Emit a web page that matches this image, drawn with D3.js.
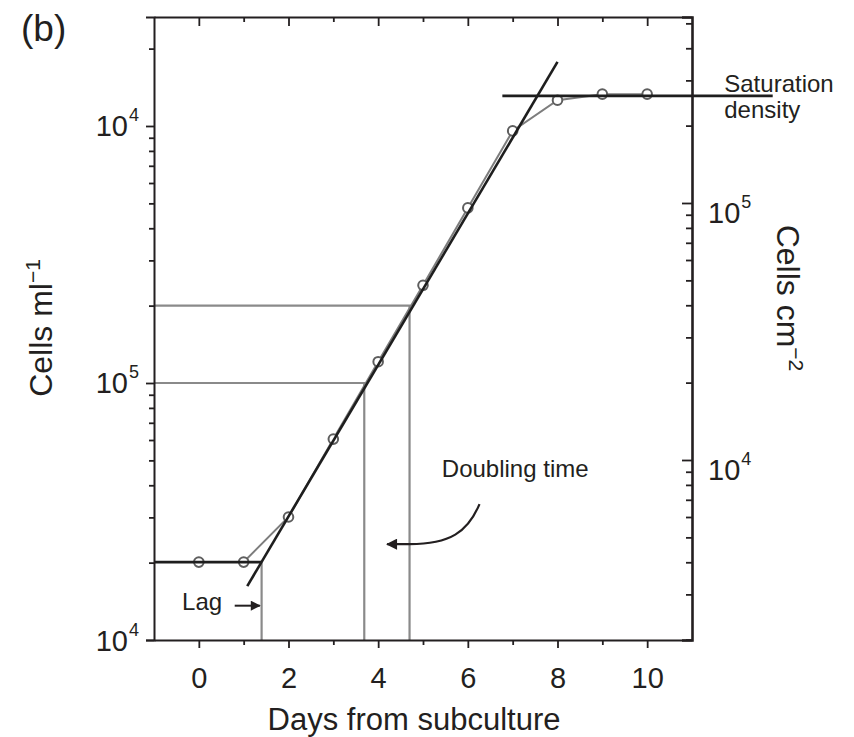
<!DOCTYPE html>
<html>
<head>
<meta charset="utf-8">
<script src="https://cdn.jsdelivr.net/npm/d3@7"></script>
<style>
  body { margin: 0; background: #fff; }
  svg { display: block; font-family: "Liberation Sans", Arial, Helvetica, sans-serif; }
</style>
</head>
<body>
<svg id="chart" width="854" height="737"></svg>
<script>
// growth curve (cells per ml vs days from subculture)
const days = [0, 1, 2, 3, 4, 5, 6, 7, 8, 9, 10];
const cellsPerMl = [2.01e4, 2.01e4, 3.01e4, 6.05e4, 1.21e5, 2.40e5, 4.80e5, 9.57e5, 1.26e6, 1.33e6, 1.33e6];

// fitted exponential phase
const fitDays = [1.08, 8.0];
const fitCells = [1.62e4, 1.775e6];

// lag and saturation levels
const lagDays = [-1, 1.40];
const lagCells = 2.01e4;
const satDays = [6.77, 12.8];
const satCells = 1.31e6;

// doubling time guides
const doublingDays = [3.69, 4.70];
const doublingCells = [1e5, 2e5];

// ticks
const xTicks = [0, 1, 2, 3, 4, 5, 6, 7, 8, 9, 10];
const xTickLabels = ['0', '', '2', '', '4', '', '6', '', '8', '', '10'];
const leftMajor = [1e4, 1e5, 1e6];
const leftExps = ['4', '5', '4'];
const rightMajor = [1e4, 1e5];
const rightExps = ['4', '5'];

const ink = '#231f20';
const grey = '#8a8a8a';

const svg = d3.select('#chart');
const margin = { top: 17, right: 162, bottom: 97, left: 154 };
const width = 854 - margin.left - margin.right;
const height = 737 - margin.top - margin.bottom;

const g = svg.append('g')
  .attr('transform', 'translate(' + margin.left + ',' + margin.top + ')');

const x = d3.scaleLinear().domain([-1, 11]).range([0, width]);
const yL = d3.scaleLog().domain([1e4, Math.pow(10, 6.4241)]).range([height, 0]);
const yR = d3.scaleLog().domain([Math.pow(10, 3.2996), Math.pow(10, 5.7237)]).range([height, 0]);

const styleAxis = (sel, w) => {
  sel.select('.domain').attr('stroke', ink).attr('stroke-width', w || 2);
  sel.selectAll('.tick line').attr('stroke', ink).attr('stroke-width', 1.8);
  sel.selectAll('.tick text').attr('fill', ink).attr('font-size', 29)
    .attr('font-family', '"Liberation Sans", Arial, sans-serif');
};

// markers
const defs = svg.append('defs');
defs.append('marker')
  .attr('id', 'head')
  .attr('viewBox', '0 0 10 10')
  .attr('refX', 9).attr('refY', 5)
  .attr('markerWidth', 6.5).attr('markerHeight', 5)
  .attr('markerUnits', 'strokeWidth')
  .attr('orient', 'auto')
  .append('path').attr('d', 'M0,0 L10,5 L0,10 Z').attr('fill', ink);

// guide lines (grey)
g.append('line')
  .attr('x1', x(lagDays[1])).attr('x2', x(lagDays[1]))
  .attr('y1', yL(lagCells)).attr('y2', yL(1e4))
  .attr('stroke', grey).attr('stroke-width', 2.2);

doublingDays.forEach((d, i) => {
  g.append('path')
    .attr('d', 'M' + x(-1) + ',' + yL(doublingCells[i]) +
      'H' + x(d) + 'V' + yL(1e4))
    .attr('fill', 'none').attr('stroke', grey).attr('stroke-width', 2.2);
});

// data line + points
const pts = days.map((d, i) => ({ day: d, cells: cellsPerMl[i] }));
g.append('path')
  .datum(pts)
  .attr('fill', 'none')
  .attr('stroke', '#7d7d7d')
  .attr('stroke-width', 2)
  .attr('d', d3.line().x(d => x(d.day)).y(d => yL(d.cells)));

g.selectAll('circle')
  .data(pts)
  .join('circle')
  .attr('cx', d => x(d.day))
  .attr('cy', d => yL(d.cells))
  .attr('r', 4.8)
  .attr('fill', '#fff')
  .attr('stroke', '#5e5e5e')
  .attr('stroke-width', 2);

// black fitted lines
const black = (x1, y1, x2, y2) => g.append('line')
  .attr('x1', x1).attr('y1', y1).attr('x2', x2).attr('y2', y2)
  .attr('stroke', '#1e1e1e').attr('stroke-width', 2.6);

black(x(lagDays[0]), yL(lagCells), x(lagDays[1]), yL(lagCells));
black(x(fitDays[0]), yL(fitCells[0]), x(fitDays[1]), yL(fitCells[1]));
black(x(satDays[0]), yL(satCells), x(satDays[1]), yL(satCells));

// axes
const axBottom = g.append('g')
  .attr('transform', 'translate(0,' + height + ')')
  .call(d3.axisBottom(x).tickValues(xTicks).tickSize(8).tickSizeOuter(0)
    .tickPadding(19).tickFormat((d, i) => xTickLabels[i]));
axBottom.selectAll('.tick line').attr('y2', d => d % 2 === 0 ? 8 : 5);
styleAxis(axBottom);

const axTop = g.append('g')
  .call(d3.axisTop(x).tickValues(xTicks).tickSize(-9).tickSizeOuter(0).tickFormat(''));
axTop.selectAll('.tick line').attr('y2', d => d % 2 === 0 ? 9 : 5);
styleAxis(axTop);

const leftMinor = yL.ticks().filter(d => leftMajor.indexOf(d) < 0);
const axLeft = g.append('g')
  .call(d3.axisLeft(yL).tickValues(leftMajor.concat(leftMinor)).tickSizeOuter(0)
    .tickSize(8).tickFormat(''));
axLeft.selectAll('.tick line').attr('x2', d => leftMajor.indexOf(d) >= 0 ? -8 : -5);
styleAxis(axLeft);

const rightMinor = yR.ticks().filter(d => rightMajor.indexOf(d) < 0);
const axRight = g.append('g')
  .attr('transform', 'translate(' + width + ',0)')
  .call(d3.axisRight(yR).tickValues(rightMajor.concat(rightMinor)).tickSizeOuter(0)
    .tickSize(-10).tickFormat(''));
axRight.selectAll('.tick line').attr('x2', d => rightMajor.indexOf(d) >= 0 ? -10 : -6);
styleAxis(axRight, 2.6);

// power-of-ten labels
const powLabel = (sel, exps) => sel.each(function (d, i) {
  const t = d3.select(this);
  t.append('tspan').text('10');
  t.append('tspan').attr('dx', 1).attr('dy', -15).attr('font-size', 18).text(exps[i]);
});

g.selectAll('.lab-left')
  .data(leftMajor)
  .join('text')
  .attr('class', 'lab-left')
  .attr('x', -15)
  .attr('y', d => yL(d) + 10.5)
  .attr('text-anchor', 'end')
  .attr('font-size', 29)
  .attr('fill', ink)
  .call(powLabel, leftExps);

g.selectAll('.lab-right')
  .data(rightMajor)
  .join('text')
  .attr('class', 'lab-right')
  .attr('x', width + 16)
  .attr('y', d => yR(d) + 20)
  .attr('font-size', 29)
  .attr('fill', ink)
  .call(powLabel, rightExps);

// axis titles
g.append('text')
  .attr('x', x(4.8))
  .attr('y', height + 90)
  .attr('text-anchor', 'middle')
  .attr('font-size', 31)
  .attr('fill', ink)
  .text('Days from subculture');

const yTitle = g.append('text')
  .attr('transform', 'translate(' + (52 - margin.left) + ',' + (328 - margin.top) + ') rotate(-90)')
  .attr('text-anchor', 'middle')
  .attr('font-size', 32)
  .attr('fill', ink);
yTitle.append('tspan').text('Cells ml');
yTitle.append('tspan').attr('dy', -12).attr('font-size', 21).text('\u22121');

const yTitleR = g.append('text')
  .attr('transform', 'translate(' + (width + 85) + ',' + (298 - margin.top) + ') rotate(90)')
  .attr('text-anchor', 'middle')
  .attr('font-size', 32)
  .attr('fill', ink);
yTitleR.append('tspan').text('Cells cm');
yTitleR.append('tspan').attr('dy', -12).attr('font-size', 21).text('\u22122');

// annotations
g.append('text')
  .attr('x', x(0.52)).attr('y', yL(1.31e4))
  .attr('text-anchor', 'end')
  .attr('font-size', 24).attr('fill', ink)
  .text('Lag');

g.append('line')
  .attr('x1', x(0.8)).attr('x2', x(1.36))
  .attr('y1', yL(1.36e4)).attr('y2', yL(1.36e4))
  .attr('stroke', ink).attr('stroke-width', 2)
  .attr('marker-end', 'url(#head)');

g.append('text')
  .attr('x', x(5.42)).attr('y', yL(4.3e4))
  .attr('font-size', 24).attr('fill', ink)
  .text('Doubling time');

g.append('path')
  .attr('d', 'M' + x(6.26) + ',' + yL(3.38e4) +
    'C' + x(6.0) + ',' + yL(2.63e4) + ' ' + x(5.6) + ',' + yL(2.36e4) + ' ' +
    x(4.7) + ',' + yL(2.36e4) + 'L' + x(4.2) + ',' + yL(2.36e4))
  .attr('fill', 'none').attr('stroke', ink).attr('stroke-width', 2.2)
  .attr('marker-end', 'url(#head)');

g.append('text')
  .attr('x', x(11.72)).attr('y', yL(1.355e6))
  .attr('font-size', 24).attr('fill', ink)
  .text('Saturation');
g.append('text')
  .attr('x', x(11.72)).attr('y', yL(1.07e6))
  .attr('font-size', 24).attr('fill', ink)
  .text('density');

// panel letter
svg.append('text')
  .attr('x', 21).attr('y', 41)
  .attr('font-size', 37).attr('fill', ink)
  .text('(b)');
</script>
</body>
</html>
